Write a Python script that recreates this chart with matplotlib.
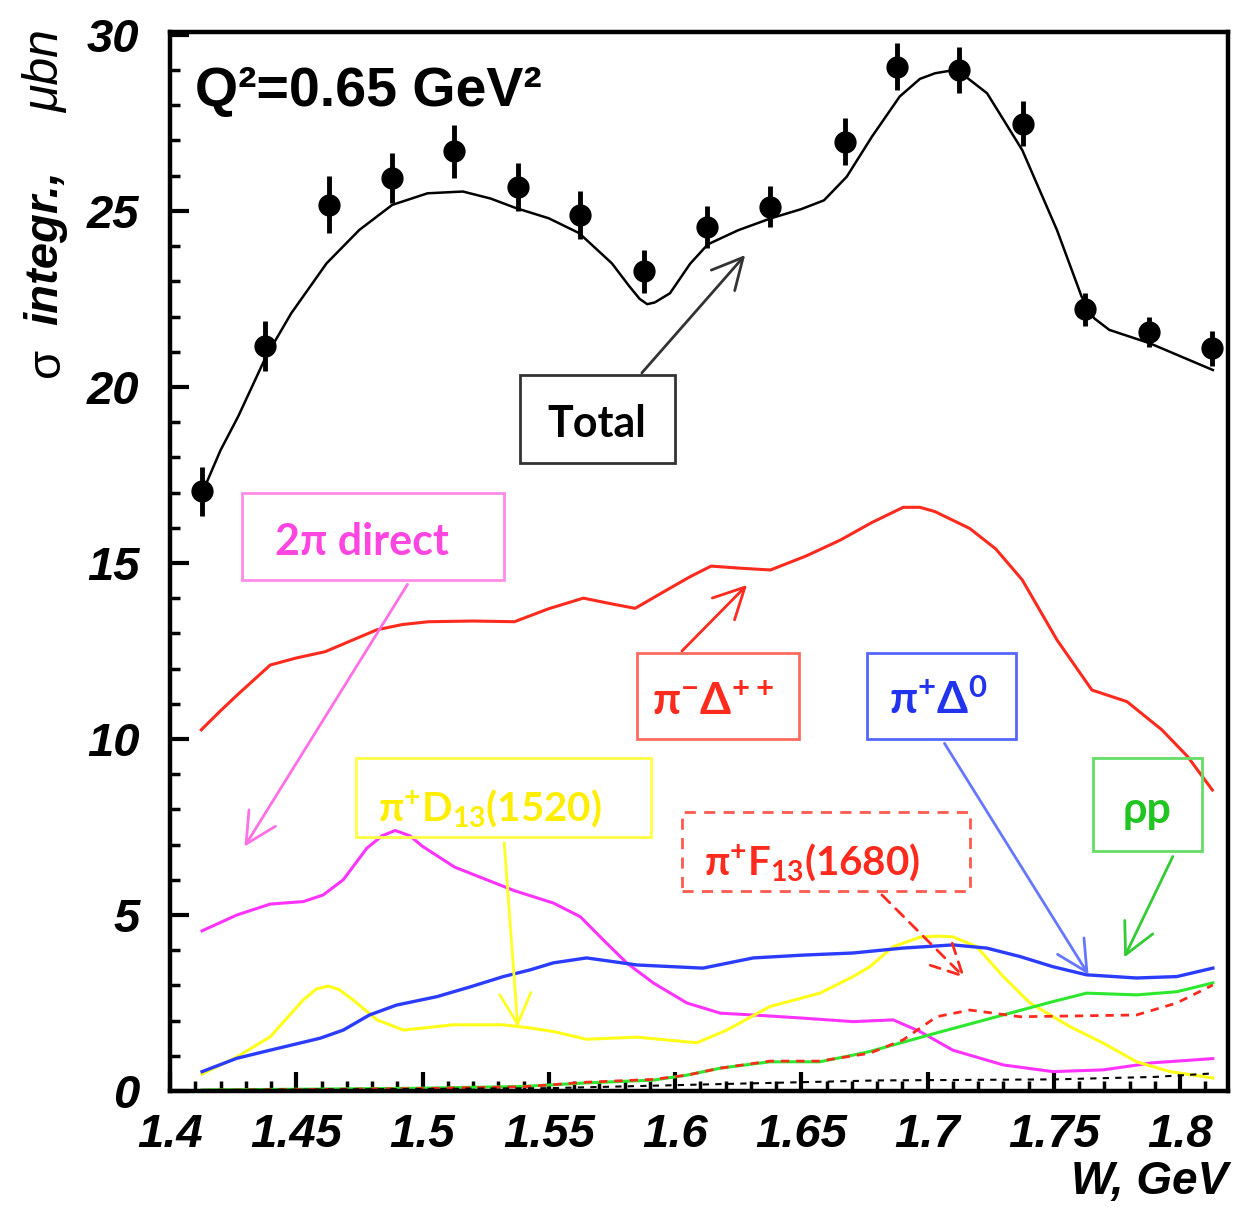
import numpy as np
import matplotlib
matplotlib.use("Agg")
import matplotlib.pyplot as plt
from matplotlib.patches import Rectangle, FancyArrowPatch
from matplotlib.ticker import MultipleLocator, FuncFormatter

plt.rcParams['mathtext.fontset'] = 'custom'
plt.rcParams['mathtext.default'] = 'regular'
plt.rcParams['lines.solid_joinstyle'] = 'round'
plt.rcParams['lines.dash_joinstyle'] = 'round'

# ---- data ----
# measured points: W (GeV), sigma (mubn), error
w_data = [1.4126, 1.4376, 1.4628, 1.4880, 1.5126, 1.5378, 1.5623, 1.5876, 1.6126,
          1.6378, 1.6675, 1.6879, 1.7125, 1.7377, 1.7624, 1.7879, 1.8128]
sig_data = [17.03, 21.15, 25.17, 25.93, 26.69, 25.69, 24.89, 23.28, 24.55,
            25.12, 26.97, 29.10, 29.00, 27.47, 22.21, 21.57, 21.10]
sig_err = [0.70, 0.71, 0.81, 0.72, 0.76, 0.68, 0.68, 0.60, 0.59,
           0.59, 0.66, 0.68, 0.66, 0.64, 0.47, 0.43, 0.50]

# total fit
w_total = [1.413, 1.420, 1.427, 1.438, 1.448, 1.462, 1.475, 1.488, 1.502, 1.516, 1.527,
           1.537, 1.550, 1.562, 1.575, 1.582, 1.586, 1.589, 1.592, 1.598, 1.606, 1.613,
           1.625, 1.638, 1.650, 1.659, 1.668, 1.678, 1.689, 1.697, 1.703, 1.708, 1.7125,
           1.7236, 1.7375, 1.7513, 1.761, 1.766, 1.772, 1.788, 1.813]
s_total = [17.03, 18.20, 19.16, 20.86, 22.09, 23.51, 24.46, 25.17, 25.50, 25.55, 25.35,
           25.08, 24.79, 24.37, 23.51, 22.85, 22.50, 22.35, 22.40, 22.66, 23.50, 24.05,
           24.45, 24.79, 25.05, 25.30, 25.97, 27.11, 28.25, 28.75, 28.91, 28.97, 28.96,
           28.34, 26.73, 24.45, 22.57, 21.95, 21.62, 21.24, 20.48]

# pi- Delta++
w_pdpp = [1.4124, 1.420, 1.4274, 1.4397, 1.450, 1.4615, 1.472, 1.4819, 1.492, 1.5024,
          1.520, 1.5364, 1.550, 1.5637, 1.574, 1.5842, 1.596, 1.606, 1.6143, 1.626,
          1.6378, 1.652, 1.6655, 1.678, 1.6904, 1.697, 1.7029, 1.7167, 1.727, 1.7375,
          1.7513, 1.7651, 1.779, 1.7928, 1.803, 1.8128]
s_pdpp = [10.26, 10.80, 11.30, 12.10, 12.30, 12.48, 12.80, 13.10, 13.25, 13.33,
          13.35, 13.33, 13.70, 14.00, 13.85, 13.71, 14.20, 14.61, 14.91, 14.85,
          14.80, 15.20, 15.65, 16.15, 16.58, 16.58, 16.46, 15.98, 15.40, 14.52,
          12.81, 11.39, 11.06, 10.26, 9.50, 8.55]

# 2pi direct
w_dir = [1.4127, 1.4265, 1.4397, 1.4528, 1.4607, 1.4686, 1.478, 1.484, 1.4892, 1.495,
         1.500, 1.5127, 1.5364, 1.5518, 1.5625, 1.5716, 1.581, 1.5914, 1.6047, 1.618,
         1.631, 1.6507, 1.6705, 1.6864, 1.697, 1.710, 1.730, 1.7497, 1.7696, 1.789, 1.813]
s_dir = [4.55, 5.00, 5.31, 5.38, 5.57, 6.00, 6.90, 7.25, 7.40, 7.25,
         6.95, 6.36, 5.69, 5.34, 4.95, 4.29, 3.63, 3.07, 2.50, 2.21,
         2.16, 2.07, 1.97, 2.02, 1.69, 1.16, 0.74, 0.55, 0.60, 0.80, 0.92]

# pi+ D13(1520)
w_d13 = [1.4127, 1.4265, 1.4397, 1.4528, 1.458, 1.4627, 1.467, 1.4726, 1.482, 1.4925,
         1.512, 1.532, 1.5426, 1.5518, 1.565, 1.5849, 1.6086, 1.6205, 1.6376, 1.6574,
         1.6705, 1.6772, 1.6864, 1.6971, 1.704, 1.710, 1.7195, 1.730, 1.7406, 1.7564,
         1.7696, 1.7828, 1.796, 1.813]
s_d13 = [0.48, 0.97, 1.54, 2.59, 2.90, 2.98, 2.88, 2.58, 2.02, 1.73,
         1.88, 1.88, 1.79, 1.69, 1.47, 1.53, 1.37, 1.73, 2.40, 2.78,
         3.25, 3.53, 4.10, 4.37, 4.40, 4.38, 4.10, 3.25, 2.50, 1.83,
         1.36, 0.83, 0.55, 0.37]

# pi+ Delta0
w_pd0 = [1.4127, 1.4265, 1.4397, 1.4595, 1.4686, 1.479, 1.4897, 1.5057, 1.519, 1.532,
         1.5426, 1.5518, 1.565, 1.5849, 1.611, 1.631, 1.6507, 1.6705, 1.6903, 1.7101,
         1.7234, 1.7366, 1.7497, 1.763, 1.7828, 1.7987, 1.813]
s_pd0 = [0.55, 0.93, 1.16, 1.50, 1.73, 2.16, 2.44, 2.68, 2.96, 3.25,
         3.44, 3.64, 3.78, 3.58, 3.49, 3.78, 3.86, 3.92, 4.06, 4.15,
         4.06, 3.82, 3.53, 3.30, 3.21, 3.25, 3.49]

# rho p
w_rho = [1.4127, 1.450, 1.500, 1.540, 1.565, 1.5914, 1.6047, 1.618, 1.6376, 1.6574,
         1.6705, 1.677, 1.7036, 1.730, 1.7497, 1.763, 1.7828, 1.7987, 1.813]
s_rho = [0.03, 0.05, 0.08, 0.13, 0.23, 0.31, 0.45, 0.65, 0.83, 0.83,
         1.02, 1.12, 1.65, 2.16, 2.54, 2.78, 2.73, 2.82, 3.07]

# pi+ F13(1680) (dashed red)
w_f13 = [1.4127, 1.450, 1.500, 1.540, 1.565, 1.5914, 1.6047, 1.618, 1.6376, 1.6574,
         1.6705, 1.677, 1.6903, 1.7036, 1.7168, 1.7366, 1.7564, 1.7828, 1.7987, 1.813]
s_f13 = [0.02, 0.04, 0.07, 0.12, 0.25, 0.33, 0.45, 0.65, 0.85, 0.85,
         1.00, 1.07, 1.45, 2.11, 2.30, 2.11, 2.13, 2.16, 2.50, 3.01]

# small black dashed contribution near zero
w_blk = [1.413, 1.550, 1.620, 1.680, 1.750, 1.790, 1.813]
s_blk = [0.02, 0.08, 0.20, 0.30, 0.33, 0.40, 0.50]

# ---- figure ----
W, H = 1238, 1208
fig = plt.figure(figsize=(W / 100, H / 100), dpi=100)


def fx(x):
    return x / W


def fy(y):
    return 1 - y / H


ax = fig.add_axes([fx(170), fy(1091), (1228 - 170) / W, (1091 - 31.7) / H])
ax.set_xlim(1.4, 1.819)
ax.set_ylim(0, 30.09)

RED = '#ff2a1e'
BLUE = '#2b3cff'
MAG = '#ff33ff'
YEL = '#ffff1a'
GRN = '#2ee82e'

ax.plot(w_dir, s_dir, color=MAG, lw=2.2)
ax.plot(w_d13, s_d13, color=YEL, lw=2.2)
ax.plot(w_pd0, s_pd0, color=BLUE, lw=2.4)
ax.plot(w_rho, s_rho, color=GRN, lw=2.2)
ax.plot(w_f13, s_f13, color=RED, lw=2.0, ls=(0, (3, 2.5)))
ax.plot(w_blk, s_blk, color='black', lw=1.5, ls=(0, (3, 3)))
ax.plot(w_pdpp, s_pdpp, color=RED, lw=2.2)
ax.plot(w_total, s_total, color='black', lw=1.8)
ax.errorbar(w_data, sig_data, yerr=sig_err, fmt='o', color='black', ms=15,
            elinewidth=3.5, capsize=0, zorder=5)

for s in ax.spines.values():
    s.set_linewidth(3.2)
ax.xaxis.set_major_locator(MultipleLocator(0.05))
ax.xaxis.set_minor_locator(MultipleLocator(0.01))
ax.yaxis.set_major_locator(MultipleLocator(5))
ax.yaxis.set_minor_locator(MultipleLocator(1))
ax.tick_params(which='both', direction='in', top=False, right=False)
ax.tick_params(which='major', length=14, width=3)
ax.tick_params(which='minor', length=7, width=2.5)
ax.tick_params(axis='x', which='major', pad=16)
ax.tick_params(axis='y', which='major', pad=22)
ax.xaxis.set_major_formatter(FuncFormatter(lambda v, p: '%g' % round(v, 3)))
ax.yaxis.set_major_formatter(FuncFormatter(lambda v, p: '%d' % round(v)))
for lab in ax.get_xticklabels() + ax.get_yticklabels():
    lab.set_fontfamily('Liberation Sans')
    lab.set_fontweight('bold')
    lab.set_fontstyle('italic')
    lab.set_fontsize(34)

# axis titles
fig.text(fx(1228), fy(1194), 'W, GeV', ha='right', va='baseline',
         family='Liberation Sans', weight='bold', style='italic', fontsize=33)
fig.text(fx(47), fy(362), 'σ', rotation=90, ha='center', va='center',
         family='Liberation Sans', fontsize=34)
fig.text(fx(45), fy(248), 'integr.,', rotation=90, ha='center', va='center',
         family='Liberation Sans', weight='bold', style='italic', fontsize=34)
fig.text(fx(46), fy(72), 'μbn', rotation=90, ha='center', va='center',
         family='Liberation Sans', style='italic', fontsize=36)

fig.text(fx(195), fy(106), 'Q²=0.65 GeV²', ha='left', va='baseline',
         family='Liberation Sans', weight='bold', fontsize=40)


def box(x0, y0, x1, y1, color, ls='-'):
    fig.add_artist(Rectangle((fx(x0), fy(y1)), fx(x1 - x0), (y1 - y0) / H,
                             transform=fig.transFigure, fill=False,
                             ec=color, lw=2.0, ls=ls, zorder=3))


def arrow(x0, y0, x1, y1, color, ls='-'):
    fig.add_artist(FancyArrowPatch((fx(x0), fy(y0)), (fx(x1), fy(y1)),
                                   transform=fig.transFigure,
                                   arrowstyle='->,head_length=0.55,head_width=0.28',
                                   mutation_scale=40, color=color, lw=2.0,
                                   ls=ls, zorder=3))


def label(x, y, s, color, size=32):
    fig.text(fx(x), fy(y), s, ha='center', va='center', color=color,
             family=['Lato', 'DejaVu Sans'], weight='bold', fontsize=size, zorder=4)


# Total
box(520, 375, 675, 463, '#333333')
arrow(640, 375, 747, 253, '#333333')
label(597, 424, 'Total', 'black', 31)

# 2pi direct
box(242, 493, 504, 580, '#ff8ce8')
arrow(409, 582, 243, 849, '#ff70e6')
label(362, 542, '2π direct', '#ff46e0', 31)

# pi- Delta++
box(637, 653, 799, 739, '#ff6a5e')
arrow(680, 653, 749, 583, RED)
label(713, 702, r'$\pi^{-}\Delta^{++}$', RED, 32)

# pi+ Delta0
box(867, 653, 1016, 739, '#5566ff')
arrow(943, 741, 1090, 977, '#6677ff')
label(938, 700, r'$\pi^{+}\Delta^{0}$', '#2233ee', 32)

# pi+ D13(1520)
box(356, 758, 651, 837, '#ffff44')
arrow(504, 840, 518, 1030, '#ffff22')
label(490, 808, r'$\pi^{+}$D$_{13}$(1520)', '#ffee00', 29)

# pi+ F13(1680)
box(682, 812, 970, 891, '#ff5a4e', ls=(0, (4, 3)))
arrow(880, 893, 967, 980, RED, ls=(0, (4, 3)))
label(812, 862, r'$\pi^{+}$F$_{13}$(1680)', RED, 29)

# rho p
box(1093, 758, 1202, 851, '#66dd66')
arrow(1174, 854, 1123, 960, '#33cc33')
label(1147, 810, 'ρp', '#22c422', 31)

fig.savefig('out.png', dpi=100)
